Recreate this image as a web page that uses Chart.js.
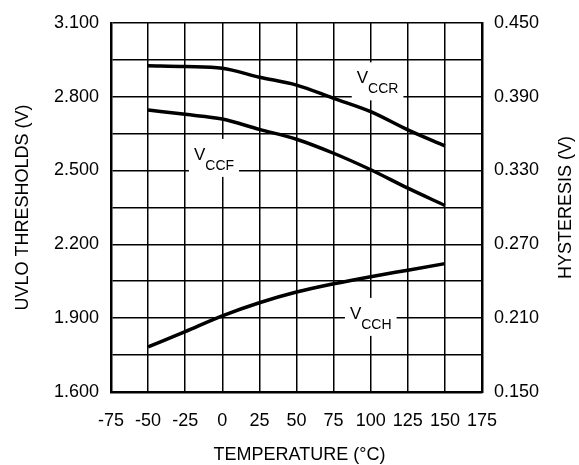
<!DOCTYPE html>
<html>
<head>
<meta charset="utf-8">
<style>
	html, body { margin: 0; padding: 0; background: #fff; }
	#chart { display: block; }
</style>
</head>
<body>
<canvas id="chart" width="579" height="465"></canvas>

<script src="https://cdn.jsdelivr.net/npm/chart.js@4/dist/chart.umd.min.js"></script>
<script type="text/javascript">
	// Температура, °C
	var temps = [-50, -25, 0, 25, 50, 75, 100, 125, 150];
	// Пороги UVLO, В (левая ось)
	var vccr = [2.925, 2.922, 2.915, 2.879, 2.847, 2.793, 2.739, 2.665, 2.600];
	var vccf = [2.746, 2.728, 2.709, 2.667, 2.627, 2.570, 2.503, 2.428, 2.358];
	// Гистерезис, В (правая ось)
	var vcch = [0.1866, 0.1991, 0.2119, 0.2225, 0.2312, 0.2379, 0.2437, 0.2490, 0.2543];

	// Подписи кривых: [основа, индекс, температура, напряжение по левой оси]
	var curveLabels = [
		["V", "CCR", 90.6, 2.854],
		["V", "CCF", -19.1, 2.543],
		["V", "CCH", 86, 1.897]
	];

	var fontFamily = "'Liberation Sans', Arial, Helvetica, sans-serif";
	Chart.defaults.font.family = fontFamily;
	Chart.defaults.color = "#000";

	function points(ys){
		return temps.map(function(t, i){ return {x: t, y: ys[i]}; });
	}

	// Подпись только у каждого второго деления
	function everyOther(digits){
		return function(value, index){
			return index % 2 === 0 ? value.toFixed(digits) : "";
		};
	}

	// Подписи кривых с белой подложкой
	var labelsPlugin = {
		id: "curveLabels",
		afterDatasetsDraw: function(chart){
			var ctx = chart.ctx;
			var sx = chart.scales.x, sy = chart.scales.y;
			ctx.save();
			curveLabels.forEach(function(l){
				var x = sx.getPixelForValue(l[2]);
				var y = sy.getPixelForValue(l[3]);
				ctx.font = "17px " + fontFamily;
				var wMain = ctx.measureText(l[0]).width;
				ctx.font = "14px " + fontFamily;
				var wSub = ctx.measureText(l[1]).width;
				ctx.fillStyle = "#fff";
				ctx.fillRect(x - 5, y - 21, wMain + wSub + 10, 38);
				ctx.fillStyle = "#000";
				ctx.textBaseline = "alphabetic";
				ctx.textAlign = "left";
				ctx.font = "17px " + fontFamily;
				ctx.fillText(l[0], x, y);
				ctx.font = "14px " + fontFamily;
				ctx.fillText(l[1], x + wMain, y + 10);
			});
			ctx.restore();
		}
	};

	// Заголовки осей (обе вертикальные читаются снизу вверх)
	var titlesPlugin = {
		id: "axisTitles",
		afterDraw: function(chart){
			var ctx = chart.ctx, a = chart.chartArea;
			var midY = (a.top + a.bottom) / 2;
			ctx.save();
			ctx.fillStyle = "#000";
			ctx.font = "18px " + fontFamily;
			ctx.textAlign = "center";
			ctx.textBaseline = "middle";
			ctx.fillText("TEMPERATURE (°C)", (a.left + a.right) / 2 + 3, 455);

			ctx.save();
			ctx.translate(23, midY);
			ctx.rotate(-Math.PI / 2);
			ctx.fillText("UVLO THRESHOLDS (V)", 0, 0);
			ctx.restore();

			ctx.translate(566, midY);
			ctx.rotate(-Math.PI / 2);
			ctx.fillText("HYSTERESIS (V)", 0, 0);
			ctx.restore();
		}
	};

	var lineStyle = {
		borderColor: "#000",
		borderWidth: 3.5,
		pointRadius: 0,
		cubicInterpolationMode: "monotone",
		fill: false
	};

	var myChart = new Chart(document.getElementById("chart"), {
		type: "line",
		data: {
			datasets: [
				Object.assign({label: "VCCR", data: points(vccr), yAxisID: "y"}, lineStyle),
				Object.assign({label: "VCCF", data: points(vccf), yAxisID: "y"}, lineStyle),
				Object.assign({label: "VCCH", data: points(vcch), yAxisID: "y2"}, lineStyle)
			]
		},
		options: {
			responsive: false,
			animation: false,
			layout: {
				padding: {top: 21, left: 0, right: 0, bottom: 0}
			},
			plugins: {
				legend: {display: false},
				tooltip: {enabled: false}
			},
			scales: {
				x: {
					type: "linear",
					min: -75,
					max: 175,
					ticks: {
						stepSize: 25,
						autoSkip: false,
						maxRotation: 0,
						padding: 18,
						font: {size: 18}
					},
					grid: {color: "#000", lineWidth: 1.5, drawTicks: false},
					border: {color: "#000", width: 2.5},
					afterFit: function(scale){ scale.height = 73; }
				},
				y: {
					position: "left",
					min: 1.6,
					max: 3.1,
					ticks: {
						stepSize: 0.15,
						autoSkip: false,
						padding: 12,
						font: {size: 18},
						callback: everyOther(3)
					},
					grid: {color: "#000", lineWidth: 1.5, drawTicks: false},
					border: {color: "#000", width: 2.5},
					afterFit: function(scale){ scale.width = 111; }
				},
				y2: {
					position: "right",
					min: 0.15,
					max: 0.45,
					ticks: {
						stepSize: 0.03,
						autoSkip: false,
						padding: 12,
						font: {size: 18},
						callback: everyOther(3)
					},
					grid: {drawOnChartArea: false, drawTicks: false},
					border: {color: "#000", width: 2.5},
					afterFit: function(scale){ scale.width = 97; }
				}
			}
		},
		plugins: [labelsPlugin, titlesPlugin]
	});
</script>
</body>
</html>
